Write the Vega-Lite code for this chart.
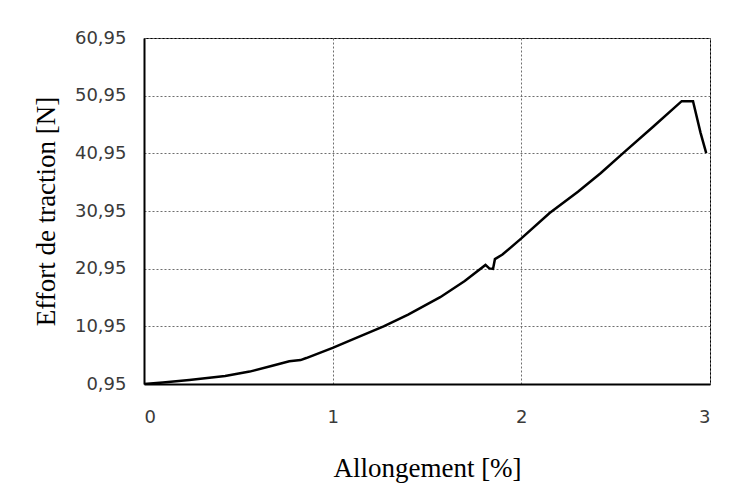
{
  "$schema": "https://vega.github.io/schema/vega-lite/v6.json",
  "autosize": {"type": "none"},
  "width": 566,
  "height": 346,
  "padding": {"left": 144, "top": 38, "right": 34, "bottom": 117},
  "background": "white",
  "data": {
    "values": [
      {"allongement": 0.0, "effort": 0.95},
      {"allongement": 0.1, "effort": 1.2},
      {"allongement": 0.24, "effort": 1.65},
      {"allongement": 0.43, "effort": 2.35},
      {"allongement": 0.56, "effort": 3.1},
      {"allongement": 0.68, "effort": 4.1},
      {"allongement": 0.77, "effort": 4.9},
      {"allongement": 0.83, "effort": 5.1},
      {"allongement": 0.86, "effort": 5.45},
      {"allongement": 1.0, "effort": 7.2},
      {"allongement": 1.1, "effort": 8.6},
      {"allongement": 1.27, "effort": 10.95},
      {"allongement": 1.4, "effort": 13.0},
      {"allongement": 1.57, "effort": 16.0},
      {"allongement": 1.7, "effort": 18.8},
      {"allongement": 1.81, "effort": 21.6},
      {"allongement": 1.83, "effort": 21.0},
      {"allongement": 1.85, "effort": 20.9},
      {"allongement": 1.86, "effort": 22.6},
      {"allongement": 1.9, "effort": 23.4},
      {"allongement": 2.0, "effort": 26.2},
      {"allongement": 2.15, "effort": 30.6},
      {"allongement": 2.3, "effort": 34.3},
      {"allongement": 2.42, "effort": 37.5},
      {"allongement": 2.55, "effort": 41.3},
      {"allongement": 2.7, "effort": 45.6},
      {"allongement": 2.85, "effort": 50.0},
      {"allongement": 2.91, "effort": 50.0},
      {"allongement": 2.95, "effort": 44.5},
      {"allongement": 2.98, "effort": 41.0}
    ]
  },
  "mark": {"type": "line", "color": "black", "strokeWidth": 2.5, "clip": true},
  "encoding": {
    "x": {
      "field": "allongement",
      "type": "quantitative",
      "scale": {"domain": [0, 3], "nice": false, "zero": false},
      "axis": {
        "title": "Allongement [%]",
        "values": [0, 1, 2, 3],
        "format": "d",
        "labelPadding": 24,
        "titlePadding": 29
      }
    },
    "y": {
      "field": "effort",
      "type": "quantitative",
      "scale": {"domain": [0.95, 60.95], "nice": false, "zero": false},
      "axis": {
        "title": "Effort de traction [N]",
        "values": [0.95, 10.95, 20.95, 30.95, 40.95, 50.95, 60.95],
        "labelExpr": "replace(format(datum.value, '.2f'), '.', ',')",
        "labelPadding": 18,
        "titlePadding": 14
      }
    }
  },
  "config": {
    "view": {"stroke": "black", "strokeWidth": 1},
    "axis": {
      "domainColor": "black",
      "domainWidth": 2,
      "ticks": false,
      "grid": true,
      "gridColor": "#6e6e6e",
      "gridDash": [2, 2],
      "gridWidth": 1,
      "gridOpacity": 1,
      "labelFont": "DejaVu Sans",
      "labelFontSize": 18,
      "labelColor": "#3a3a3a",
      "titleFont": "Liberation Serif",
      "titleFontSize": 27,
      "titleFontWeight": "normal",
      "titleColor": "black"
    },
    "axisY": {"labelBaseline": "middle"}
  }
}
